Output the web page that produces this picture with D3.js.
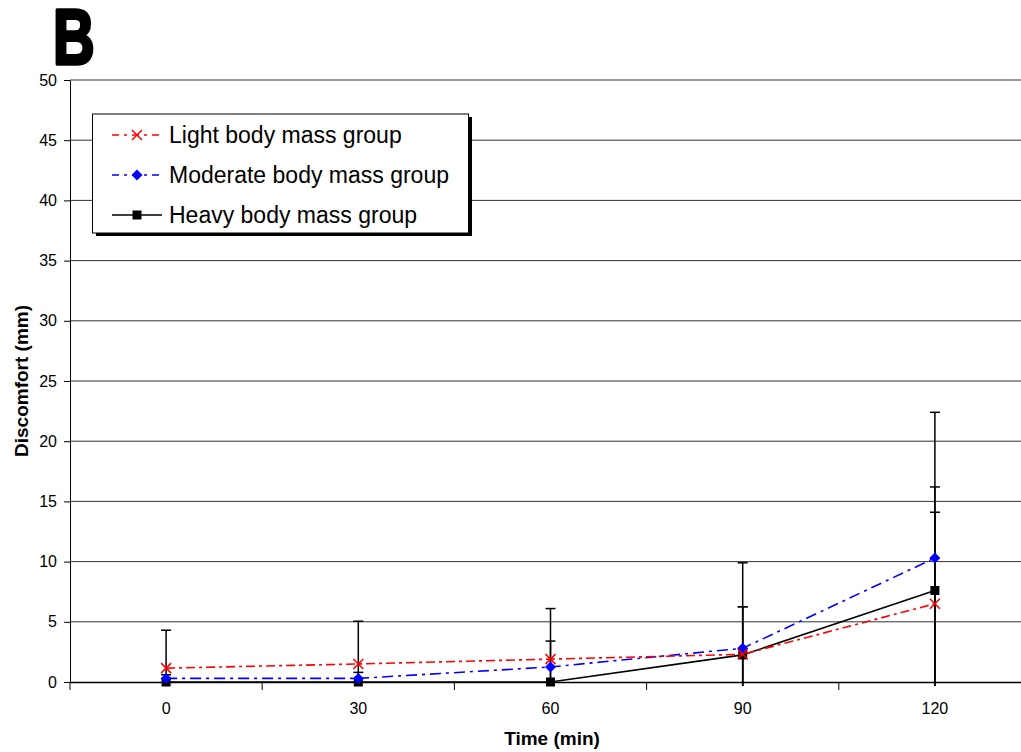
<!DOCTYPE html>
<html>
<head>
<meta charset="utf-8">
<script src="https://cdn.jsdelivr.net/npm/d3@7/dist/d3.min.js"></script>
<style>
  body { margin: 0; background: #fff; }
  svg { display: block; font-family: "Liberation Sans", Arial, sans-serif; }
</style>
</head>
<body>
<div id="main"></div>
<script>
const times = ['0', '30', '60', '90', '120'];
const yTicks = [0, 5, 10, 15, 20, 25, 30, 35, 40, 45, 50];

const lightMean = [1.15, 1.5, 1.9, 2.3, 6.5];
const lightSd   = [3.15, 3.55, 4.2, 3.95, 7.6];
const modMean   = [0.3, 0.3, 1.25, 2.8, 10.3];
const modSd     = [0.3, 0.5, 2.15, 7.1, 12.1];
const heavyMean = [0, 0, 0, 2.25, 7.6];
const heavySd   = [0, 0, 0, 4.0, 8.6];

const seriesNames = ['Light body mass group', 'Moderate body mass group', 'Heavy body mass group'];

const W = 1021, H = 752;
const m = { left: 70, top: 80, bottom: 70 };
const plotRight = 1031;

const svg = d3.select('#main').append('svg')
  .attr('width', W).attr('height', H).attr('viewBox', [0, 0, W, H]);

const x = d3.scaleBand().domain(times).range([m.left, plotRight]);
const xc = t => x(t) + x.bandwidth() / 2;
const y = d3.scaleLinear().domain([0, 50]).range([H - m.bottom, m.top]);

// gridlines
svg.append('g').selectAll('line').data(yTicks.slice(1)).join('line')
  .attr('x1', m.left).attr('x2', W)
  .attr('y1', d => y(d)).attr('y2', d => y(d))
  .attr('stroke', '#333').attr('stroke-width', 1);

// y axis
const ay = svg.append('g').attr('transform', `translate(${m.left},0)`)
  .call(d3.axisLeft(y).tickValues(yTicks).tickSize(6).tickSizeOuter(0));
ay.select('.domain').attr('stroke', '#000');
ay.selectAll('.tick line').attr('stroke', '#000');
ay.selectAll('.tick text').attr('font-size', 16).attr('fill', '#000').attr('x', -13);

// x axis
const ax = svg.append('g').attr('transform', `translate(0,${y(0)})`)
  .call(d3.axisBottom(x).tickSize(0).tickSizeOuter(0));
ax.select('.domain').attr('stroke', '#000').attr('stroke-width', 1.5);
ax.selectAll('.tick text').attr('font-size', 16).attr('fill', '#000').attr('y', 32).attr('dy', 0);
ax.selectAll('line.sep').data(times).join('line').attr('class', 'sep')
  .attr('x1', d => x(d)).attr('x2', d => x(d))
  .attr('y1', 0).attr('y2', 8).attr('stroke', '#000');

// axis titles
svg.append('text').attr('x', 552).attr('y', 745).attr('text-anchor', 'middle')
  .attr('font-size', 19).attr('font-weight', 'bold').text('Time (min)');
svg.append('text').attr('transform', 'translate(28,381) rotate(-90)').attr('text-anchor', 'middle')
  .attr('font-size', 19).attr('font-weight', 'bold').text('Discomfort (mm)');

// panel letter
svg.append('text').attr('transform', 'translate(53,64) scale(0.74,1)').attr('font-size', 78)
  .attr('font-weight', 'bold')
  .attr('stroke', '#000').attr('stroke-width', 3.5).attr('stroke-linejoin', 'round')
  .text('B');

const series = [
  { name: seriesNames[0], mean: lightMean, sd: lightSd, color: '#ff0000', dash: '9,4,3,4', marker: 'x' },
  { name: seriesNames[1], mean: modMean, sd: modSd, color: '#0000ff', dash: '11,5,3,5', marker: 'diamond' },
  { name: seriesNames[2], mean: heavyMean, sd: heavySd, color: '#000', dash: null, marker: 'square' }
];

const floorY = y(0) + 4;

// error bars
series.forEach(s => {
  const g = svg.append('g');
  times.forEach((t, i) => {
    if (!s.sd[i]) return;
    const cx = xc(t);
    const top = y(s.mean[i] + s.sd[i]);
    const bot = Math.min(y(s.mean[i] - s.sd[i]), floorY);
    g.append('line').attr('x1', cx).attr('x2', cx).attr('y1', top).attr('y2', bot)
      .attr('stroke', '#000').attr('stroke-width', 1.5);
    g.append('line').attr('x1', cx - 5).attr('x2', cx + 5).attr('y1', top).attr('y2', top)
      .attr('stroke', '#000').attr('stroke-width', 1.5);
  });
});

const line = d3.line().x((d, i) => xc(times[i])).y(d => y(d));

function drawMarker(g, type, cx, cy, color) {
  if (type === 'x') {
    g.append('path').attr('d', `M${cx-5},${cy-5}L${cx+5},${cy+5}M${cx-5},${cy+5}L${cx+5},${cy-5}`)
      .attr('stroke', color).attr('stroke-width', 1.5).attr('fill', 'none');
  } else if (type === 'diamond') {
    g.append('path').attr('d', `M${cx},${cy-5.5}L${cx+5.5},${cy}L${cx},${cy+5.5}L${cx-5.5},${cy}Z`)
      .attr('fill', color);
  } else {
    g.append('rect').attr('x', cx - 4.5).attr('y', cy - 4.5).attr('width', 9).attr('height', 9)
      .attr('fill', color);
  }
}

// lines and markers, heavy drawn first so the others sit on top
[series[2], series[1], series[0]].forEach(s => {
  const g = svg.append('g');
  g.append('path').attr('d', line(s.mean)).attr('fill', 'none')
    .attr('stroke', s.color).attr('stroke-width', 1.6)
    .attr('stroke-dasharray', s.dash);
  s.mean.forEach((v, i) => drawMarker(g, s.marker, xc(times[i]), y(v), s.color));
});

// legend
const lg = svg.append('g');
lg.append('rect').attr('x', 96).attr('y', 117).attr('width', 376).attr('height', 119).attr('fill', '#000');
lg.append('rect').attr('x', 92.5).attr('y', 114).attr('width', 376).attr('height', 119)
  .attr('fill', '#fff').attr('stroke', '#000').attr('stroke-width', 1);
const rowsY = [135, 175, 215];
series.forEach((s, i) => {
  const ry = rowsY[i];
  lg.append('line').attr('x1', 112).attr('x2', 162).attr('y1', ry).attr('y2', ry)
    .attr('stroke', s.color).attr('stroke-width', 1.6)
    .attr('stroke-dasharray', s.dash ? '7,5,3,5' : null);
  drawMarker(lg, s.marker, 137, ry, s.color);
  lg.append('text').attr('x', 169).attr('y', ry + 8).attr('font-size', 23).attr('fill', '#000').text(s.name);
});
</script>
</body>
</html>
